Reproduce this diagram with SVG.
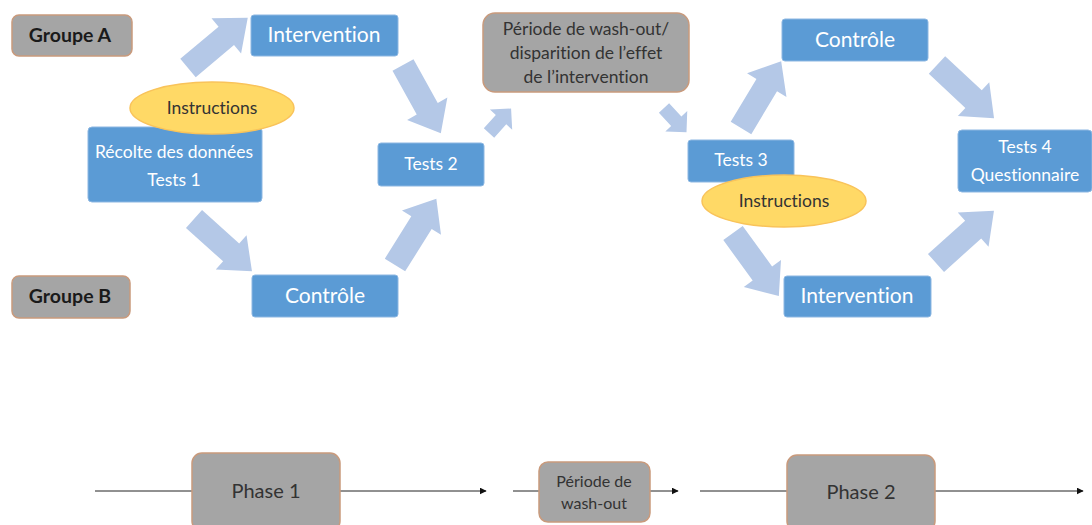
<svg xmlns="http://www.w3.org/2000/svg" width="1092" height="525" viewBox="0 0 1092 525">
<style>
.bg{fill:#ffffff}
.blue{fill:#5B9BD5;stroke:#8DB7E2;stroke-width:1}
.gray{fill:#A5A5A5;stroke:#C99A7C;stroke-width:1.5}
.ell{fill:#FFD966;stroke:#F9C35A;stroke-width:1.5}
.arr{fill:#B4C8E7}
text{font-family:Lato,"Open Sans",sans-serif;text-anchor:middle;font-variant-ligatures:none;font-feature-settings:"liga" 0,"clig" 0}
.wt{fill:#ffffff}
.dt{fill:#333333}
.bt{fill:#1a1a1a;font-weight:bold}
.ln{stroke:#222;stroke-width:1;fill:none}
</style>
<defs>
<polygon id="ba" points="0,-12 50,-12 50,-23 78,0 50,23 50,12 0,12"/>
<polygon id="sa" points="0,-7 18,-7 18,-15 33,0 18,15 18,7 0,7"/>
<marker id="ah" viewBox="0 0 10 10" refX="9" refY="5" markerWidth="7" markerHeight="7" markerUnits="userSpaceOnUse" orient="auto"><path d="M0,0 L10,5 L0,10 z" fill="#111"/></marker>
</defs>
<rect class="bg" x="0" y="0" width="1092" height="525"/>

<g id="connectors">
<use href="#ba" class="arr" transform="translate(188,68) rotate(-40)"/>
<use href="#ba" class="arr" transform="translate(403,65) rotate(61)"/>
<use href="#ba" class="arr" transform="translate(194,219) rotate(42)"/>
<use href="#ba" class="arr" transform="translate(395,265) rotate(-58)"/>
<use href="#sa" class="arr" transform="translate(489,133) rotate(-48)"/>
<use href="#sa" class="arr" transform="translate(664,108) rotate(47)"/>
<use href="#ba" class="arr" transform="translate(741,128) rotate(-59)"/>
<use href="#ba" class="arr" transform="translate(937,65) rotate(43)"/>
<use href="#ba" class="arr" transform="translate(733,233) rotate(54)"/>
<use href="#ba" class="arr" transform="translate(936,263) rotate(-42)"/>
<line class="ln" x1="95" y1="491" x2="192" y2="491"/>
<line class="ln" x1="340" y1="491" x2="486" y2="491" marker-end="url(#ah)"/>
<line class="ln" x1="513" y1="491" x2="539" y2="491"/>
<line class="ln" x1="650" y1="491" x2="678" y2="491" marker-end="url(#ah)"/>
<line class="ln" x1="700" y1="491" x2="787" y2="491"/>
<line class="ln" x1="935" y1="491" x2="1083" y2="491" marker-end="url(#ah)"/>
</g>

<g id="groupeA"><rect class="gray" x="12" y="15" width="120" height="41" rx="7"/><text class="bt" x="70" y="42" font-size="19.5">Groupe A</text></g>
<g id="groupeB"><rect class="gray" x="12" y="276" width="118" height="42" rx="7"/><text class="bt" x="70" y="303" font-size="19.5">Groupe B</text></g>

<g id="recolte"><rect class="blue" x="88" y="127" width="174" height="75" rx="4"/>
<text class="wt" x="174" y="158" font-size="17.5">Récolte des données</text>
<text class="wt" x="174" y="186" font-size="17.5">Tests 1</text></g>
<g id="instructions1"><ellipse class="ell" cx="212" cy="108" rx="82" ry="26"/><text class="dt" x="212" y="114" font-size="17.5" fill="#222">Instructions</text></g>

<g id="intervention1"><rect class="blue" x="251" y="15" width="147" height="41" rx="3"/><text class="wt" x="324" y="42" font-size="21">Intervention</text></g>
<g id="controle1"><rect class="blue" x="252" y="275" width="146" height="42" rx="3"/><text class="wt" x="325" y="303" font-size="21">Contrôle</text></g>
<g id="tests2"><rect class="blue" x="378" y="143" width="106" height="43" rx="3"/><text class="wt" x="431" y="170" font-size="17.5">Tests 2</text></g>

<g id="washout"><rect class="gray" x="483" y="13" width="206" height="79" rx="12"/>
<text class="dt" x="586" y="35" font-size="17.5">Période de wash-out/</text>
<text class="dt" x="586" y="59" font-size="17.5">disparition de l’effet</text>
<text class="dt" x="586" y="83" font-size="17.5">de l’intervention</text></g>

<g id="tests3"><rect class="blue" x="688" y="140" width="106" height="42" rx="3"/><text class="wt" x="741" y="166" font-size="17.5">Tests 3</text></g>
<g id="instructions2"><ellipse class="ell" cx="784" cy="201" rx="82" ry="26"/><text class="dt" x="784" y="207" font-size="17.5" fill="#222">Instructions</text></g>
<g id="controle2"><rect class="blue" x="782" y="19" width="146" height="42" rx="3"/><text class="wt" x="855" y="47" font-size="21">Contrôle</text></g>
<g id="intervention2"><rect class="blue" x="784" y="276" width="147" height="41" rx="3"/><text class="wt" x="857" y="303" font-size="21">Intervention</text></g>
<g id="tests4"><rect class="blue" x="958" y="130" width="134" height="62" rx="4"/>
<text class="wt" x="1025" y="153" font-size="17.5">Tests 4</text>
<text class="wt" x="1025" y="181" font-size="17.5">Questionnaire</text></g>

<g id="phase1"><rect class="gray" x="192" y="453" width="148" height="78" rx="10"/><text class="dt" x="266" y="498" font-size="20" fill="#262626">Phase 1</text></g>
<g id="washout2"><rect class="gray" x="539" y="462" width="111" height="60" rx="9"/>
<text class="dt" x="594" y="487" font-size="16">Période de</text>
<text class="dt" x="594" y="509" font-size="16">wash-out</text></g>
<g id="phase2"><rect class="gray" x="787" y="455" width="148" height="76" rx="10"/><text class="dt" x="861" y="499" font-size="20" fill="#262626">Phase 2</text></g>
</svg>
